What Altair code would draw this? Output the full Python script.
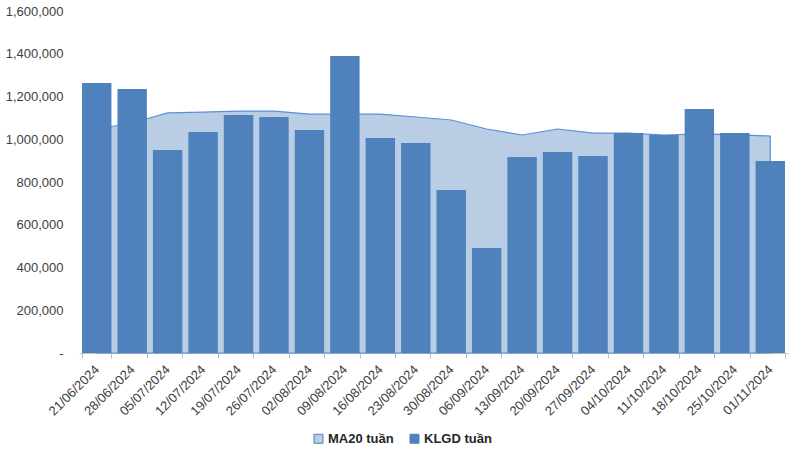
import altair as alt
import pandas as pd

dates = ["21/06/2024", "28/06/2024", "05/07/2024", "12/07/2024", "19/07/2024",
         "26/07/2024", "02/08/2024", "09/08/2024", "16/08/2024", "23/08/2024",
         "30/08/2024", "06/09/2024", "13/09/2024", "20/09/2024", "27/09/2024",
         "04/10/2024", "11/10/2024", "18/10/2024", "25/10/2024", "01/11/2024"]
klgd = [1263000, 1235000, 950000, 1034000, 1113000, 1104000, 1043000, 1389000,
        1006000, 982000, 763000, 491000, 917000, 940000, 922000, 1029000,
        1020000, 1141000, 1029000, 898000]
ma20 = [1048000, 1076000, 1123000, 1127000, 1132000, 1132000, 1118000, 1118000,
        1118000, 1104000, 1090000, 1048000, 1020000, 1048000, 1029000, 1029000,
        1020000, 1025000, 1022000, 1015000]
series_names = ["MA20 tuần", "KLGD tuần"]

df_ma = pd.DataFrame({"date": dates, "value": ma20, "series": series_names[0]})
df_bar = pd.DataFrame({"date": dates, "value": klgd, "series": series_names[1]})

FONT = "Liberation Sans"

x_enc = alt.X(
    "date:N", sort=dates, title=None,
    scale=alt.Scale(type="band", paddingInner=0.17, paddingOuter=0.085),
    axis=alt.Axis(labelAngle=-45, labelFontSize=13, labelFont=FONT, labelColor="#404040",
                  tickBand="extent", tickSize=5, tickColor="#BFBFBF", domainColor="#BFBFBF",
                  labelPadding=9, labelAlign="right", labelBaseline="middle"),
)
y_enc = alt.Y(
    "value:Q", title=None,
    scale=alt.Scale(domain=[0, 1600000], nice=False),
    axis=alt.Axis(values=[0, 200000, 400000, 600000, 800000, 1000000, 1200000, 1400000, 1600000],
                  grid=False, domain=False, ticks=False, labelPadding=16,
                  labelFontSize=13, labelFont=FONT, labelColor="#404040",
                  labelExpr="datum.value == 0 ? '-\u2007' : format(datum.value, ',d')"),
)
color_enc = alt.Color(
    "series:N",
    scale=alt.Scale(domain=series_names, range=["#B9CDE5", "#4F81BD"]),
    legend=alt.Legend(title=None, orient="none", direction="horizontal",
                      legendX=233, legendY=421, symbolType="square", symbolSize=81,
                      symbolStrokeColor="#4F81BD", symbolStrokeWidth=1,
                      labelFontSize=13, labelFontWeight="bold", labelFont=FONT,
                      labelColor="#262626", columnPadding=14, labelOffset=3),
)

area = alt.Chart(df_ma).mark_area(stroke="#5B8FD9", strokeWidth=1.2, opacity=1).encode(
    x=x_enc, y=y_enc, color=color_enc
)
bars = alt.Chart(df_bar).mark_bar(opacity=1).encode(
    x=x_enc, y=y_enc, color=color_enc
)

chart = alt.layer(area, bars).properties(
    width=709, height=342,
    autosize=alt.AutoSizeParams(type="none"),
    padding={"left": 79, "top": 11, "right": 11, "bottom": 105},
).configure_view(stroke=None)

chart.save("out.html", embed_options={"renderer": "svg", "actions": False})
